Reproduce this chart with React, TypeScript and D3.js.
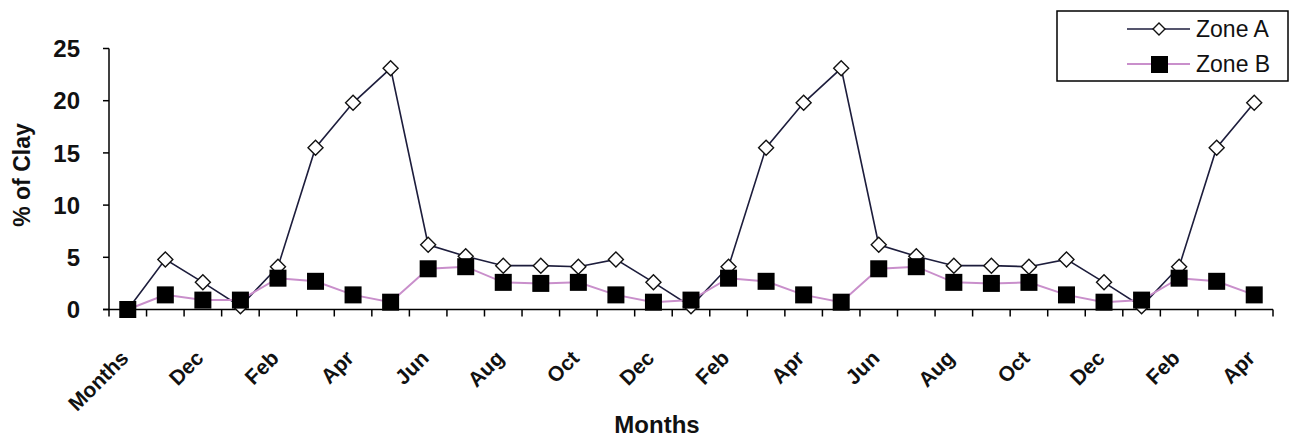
import React from "react";
import * as d3 from "d3";

// Monthly categories along the x axis (every second one is labelled)
const months = [
  "Months", "Nov", "Dec", "Jan", "Feb", "Mar", "Apr", "May", "Jun", "Jul", "Aug",
  "Sep", "Oct", "Nov", "Dec", "Jan", "Feb", "Mar", "Apr", "May", "Jun", "Jul",
  "Aug", "Sep", "Oct", "Nov", "Dec", "Jan", "Feb", "Mar", "Apr",
];

// % of clay per month
const zoneA = [
  0, 4.8, 2.6, 0.3, 4.1, 15.5, 19.8, 23.1, 6.2, 5.1, 4.2, 4.2, 4.1, 4.8, 2.6, 0.3,
  4.1, 15.5, 19.8, 23.1, 6.2, 5.1, 4.2, 4.2, 4.1, 4.8, 2.6, 0.3, 4.1, 15.5, 19.8,
];
const zoneB = [
  0, 1.4, 0.9, 0.9, 3.0, 2.7, 1.4, 0.7, 3.9, 4.1, 2.6, 2.5, 2.6, 1.4, 0.7, 0.9,
  3.0, 2.7, 1.4, 0.7, 3.9, 4.1, 2.6, 2.5, 2.6, 1.4, 0.7, 0.9, 3.0, 2.7, 1.4,
];

const yTicks = [0, 5, 10, 15, 20, 25];

const W = 1292;
const H = 439;
const FONT = "'Liberation Sans', Arial, sans-serif";
const LINE_A = "#1d1d3c";
const LINE_B = "#c98fcb";

const diamond = (cx: number, cy: number, r: number) =>
  `M${cx},${cy - r}L${cx + r},${cy}L${cx},${cy + r}L${cx - r},${cy}Z`;

export default function App() {
  const keys = months.map((_, i) => String(i));
  const x = d3.scaleBand<string>().domain(keys).range([109, 1273]).paddingInner(0).paddingOuter(0);
  const y = d3.scaleLinear().domain([0, 25]).range([309.5, 48.5]);
  const cx = (i: number) => (x(String(i)) as number) + x.bandwidth() / 2;

  const line = d3
    .line<number>()
    .x((_, i) => cx(i))
    .y((d) => y(d));

  const boundaries = keys.map((k) => x(k) as number).concat([x.range()[1]]);
  const [x0, x1] = x.range();
  const y0 = y(0);

  return (
    <div style={{ position: "fixed", left: 0, top: 0 }}>
      <svg width={W} height={H} style={{ display: "block", background: "#fff" }}>
        {/* y axis */}
        <line x1={x0} x2={x0} y1={y(25)} y2={y0} stroke="#000" strokeWidth={1.5} />
        {yTicks.map((t) => (
          <g key={t}>
            <line x1={x0 - 6} x2={x0} y1={y(t)} y2={y(t)} stroke="#000" strokeWidth={1.5} />
            <text
              x={80}
              y={y(t)}
              dy="0.36em"
              textAnchor="end"
              fontFamily={FONT}
              fontWeight="bold"
              fontSize={24}
              fill="#111"
            >
              {t}
            </text>
          </g>
        ))}
        <text
          transform={`translate(30,175) rotate(-90)`}
          textAnchor="middle"
          fontFamily={FONT}
          fontWeight="bold"
          fontSize={23}
          fill="#111"
        >
          % of Clay
        </text>

        {/* x axis */}
        <line x1={x0 - 6} x2={x1} y1={y0} y2={y0} stroke="#000" strokeWidth={1.5} />
        {boundaries.map((b, i) => (
          <line key={i} x1={b} x2={b} y1={y0} y2={y0 + 7} stroke="#000" strokeWidth={1.5} />
        ))}
        {months.map((m, i) =>
          i % 2 === 0 ? (
            <text
              key={i}
              transform={`translate(${cx(i) + 2},${y0 + 50}) rotate(-45)`}
              textAnchor="end"
              fontFamily={FONT}
              fontWeight="bold"
              fontSize={21}
              fill="#111"
            >
              {m}
            </text>
          ) : null
        )}
        <text
          x={657}
          y={433}
          textAnchor="middle"
          fontFamily={FONT}
          fontWeight="bold"
          fontSize={24}
          fill="#111"
        >
          Months
        </text>

        {/* Zone A */}
        <path d={line(zoneA) || ""} fill="none" stroke={LINE_A} strokeWidth={1.6} />
        {zoneA.map((v, i) => (
          <path key={i} d={diamond(cx(i), y(v), 7.5)} fill="#fff" stroke="#111" strokeWidth={1.4} />
        ))}

        {/* Zone B */}
        <path d={line(zoneB) || ""} fill="none" stroke={LINE_B} strokeWidth={2} />
        {zoneB.map((v, i) => (
          <rect key={i} x={cx(i) - 8.5} y={y(v) - 8.5} width={17} height={17} fill="#000" />
        ))}

        {/* legend */}
        <rect x={1057} y={11} width={231} height={70} fill="#fff" stroke="#000" strokeWidth={1.5} />
        <line x1={1127} x2={1190} y1={29} y2={29} stroke={LINE_A} strokeWidth={1.6} />
        <path d={diamond(1159, 29, 6)} fill="#fff" stroke="#111" strokeWidth={1.4} />
        <text x={1196} y={29} dy="0.36em" fontFamily={FONT} fontSize={23} fill="#111">
          Zone A
        </text>
        <line x1={1127} x2={1190} y1={64} y2={64} stroke={LINE_B} strokeWidth={2} />
        <rect x={1151} y={56} width={17} height={17} fill="#000" />
        <text x={1196} y={64} dy="0.36em" fontFamily={FONT} fontSize={23} fill="#111">
          Zone B
        </text>
      </svg>
    </div>
  );
}
